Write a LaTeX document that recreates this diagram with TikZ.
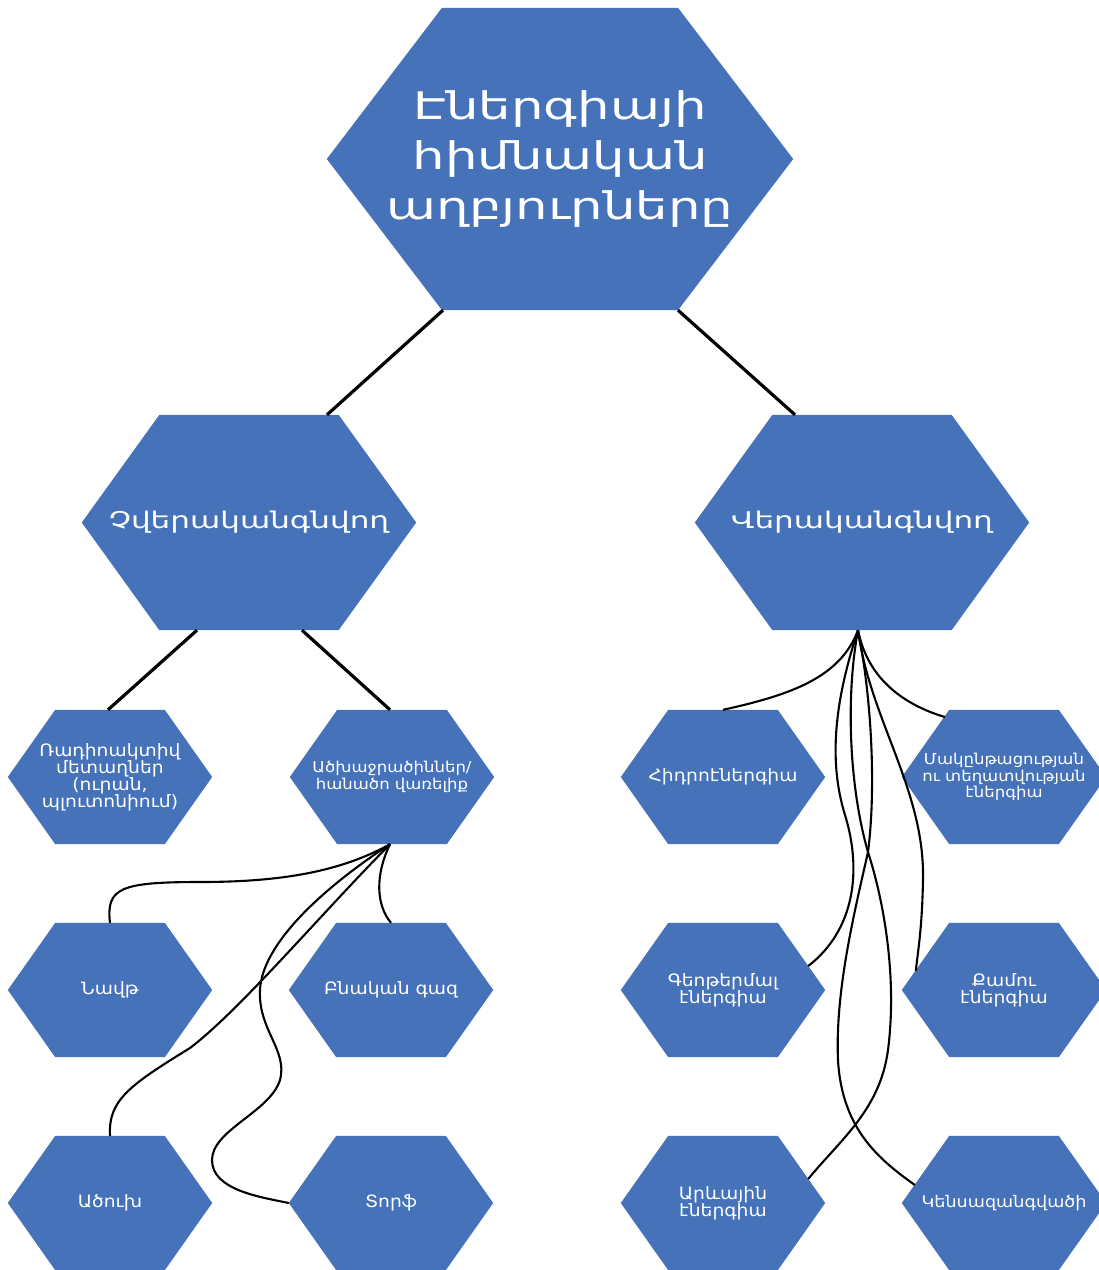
\documentclass[tikz,border=0pt]{standalone}
\usepackage{fontspec}
\setmainfont{DejaVu Sans}[FakeStretch=1.35]
\newfontfamily\smallfam{DejaVu Sans}[FakeStretch=1.1]
\usetikzlibrary{calc}
\definecolor{hexblue}{RGB}{69,114,184}
\pgfdeclarelayer{bg}
\pgfsetlayers{bg,main}
\begin{document}
\begin{tikzpicture}[x=1pt,y=-1pt,
  hexnode/.style={rectangle, inner sep=0pt, align=center, text=white},
  bighex/.style={hexnode, minimum width=466pt, minimum height=302pt, font=\fontsize{38}{50}\selectfont},
  midhex/.style={hexnode, minimum width=334pt, minimum height=215pt, font=\fontsize{23}{28}\selectfont},
  smallhex/.style={hexnode, minimum width=204pt, minimum height=134pt, font=\smallfam\fontsize{17}{17}\selectfont},
  tighttext/.style={font=\smallfam\fontsize{15}{16.5}\selectfont},
  link/.style={line width=3.2pt, black},
  curve/.style={line width=2.1pt, black}]
\useasboundingbox (0,0) rectangle (1099,1270);

\node[bighex] (top) at (560,159) {Էներգիայի\\հիմնական\\աղբյուրները};
\node[midhex] (nr) at (249,522.5) {Չվերականգնվող};
\node[midhex] (r) at (862,522.5) {Վերականգնվող};

\node[smallhex] (rad) at (110,777) {Ռադիոակտիվ\\մետաղներ\\(ուրան,\\պլուտոնիում)};
\node[smallhex, tighttext] (hyd) at (392,777) {Ածխաջրածիններ/\\հանածո վառելիք};
\node[smallhex] (hydro) at (723,777) {Հիդրոէներգիա};
\node[smallhex, tighttext] (tide) at (1004,777) {Մակընթացության\\ու տեղատվության\\էներգիա};

\node[smallhex] (naft) at (110,990) {Նավթ};
\node[smallhex] (gas) at (391,990) {Բնական գազ};
\node[smallhex] (geo) at (723,990) {Գեոթերմալ\\էներգիա};
\node[smallhex] (wind) at (1004,990) {Քամու\\էներգիա};

\node[smallhex] (coal) at (110,1203) {Ածուխ};
\node[smallhex] (peat) at (391,1203) {Տորֆ};
\node[smallhex] (sun) at (723,1203) {Արևային\\էներգիա};
\node[smallhex, font=\smallfam\fontsize{16}{17}\selectfont] (bio) at (1004,1203) {Կենսազանգվածի};

\begin{pgfonlayer}{bg}
\fill[white] (0,0) rectangle (1099,1270);
\foreach \n/\f in {top/0.247, nr/0.232, r/0.232, rad/0.232, hyd/0.232, hydro/0.232, tide/0.232,
  naft/0.232, gas/0.232, geo/0.232, wind/0.232, coal/0.232, peat/0.232, sun/0.232, bio/0.232}
  \fill[hexblue] (\n.west) -- ($(\n.north west)!\f!(\n.north east)$) -- ($(\n.north east)!\f!(\n.north west)$)
    -- (\n.east) -- ($(\n.south east)!\f!(\n.south west)$) -- ($(\n.south west)!\f!(\n.south east)$) -- cycle;
\end{pgfonlayer}

% straight links
\draw[link] ($(top.south)+(-117,0)$) -- ($(nr.north)+(78,0)$);
\draw[link] ($(top.south)+(118,0)$) -- ($(r.north)+(-67,0)$);
\draw[link] ($(nr.south)+(-52,0)$) -- ($(rad.north)+(-2,0)$);
\draw[link] ($(nr.south)+(53,0)$) -- ($(hyd.north)+(-2,0)$);

% left fan
\coordinate (lfan) at ($(hyd.south)+(-2,0)$);
\draw[curve] (lfan) .. controls (340,872) and (280,882) .. (200,882)
  .. controls (120,882) and (106,888) .. (naft.north);
\draw[curve] (lfan) .. controls (375,875) and (376,905) .. (gas.north);
\draw[curve] (lfan) .. controls (320,915) and (240,1010) .. (190,1048)
  .. controls (130,1085) and (108,1100) .. (coal.north);
\draw[curve] (lfan) .. controls (320,890) and (262,945) .. (260,990)
  .. controls (258,1030) and (288,1050) .. (280,1080)
  .. controls (270,1112) and (212,1130) .. (212,1160)
  .. controls (212,1190) and (260,1197) .. (peat.west);

% right fan
\coordinate (rfan) at ($(r.south)+(-4,0)$);
\draw[curve] (rfan) .. controls (840,678) and (790,695) .. (hydro.north);
\draw[curve] (rfan) .. controls (868,680) and (905,705) .. ($(tide.west)+(43,-60)$);
\draw[curve] (rfan) .. controls (835,700) and (828,760) .. (845,815)
  .. controls (862,870) and (855,930) .. ($(geo.east)+(-17,-24)$);
\draw[curve] (rfan) .. controls (870,720) and (925,790) .. (923,880)
  .. controls (922,930) and (918,950) .. ($(wind.west)+(14,-19)$);
\draw[curve] (rfan) .. controls (845,700) and (850,790) .. (868,852)
  .. controls (885,905) and (897,980) .. (888,1050)
  .. controls (880,1110) and (840,1140) .. ($(sun.east)+(-17,-24)$);
\draw[curve] (rfan) .. controls (872,700) and (876,790) .. (868,852)
  .. controls (855,910) and (835,990) .. (838,1060)
  .. controls (842,1130) and (880,1160) .. ($(bio.west)+(13,-18)$);
\end{tikzpicture}
\end{document}
